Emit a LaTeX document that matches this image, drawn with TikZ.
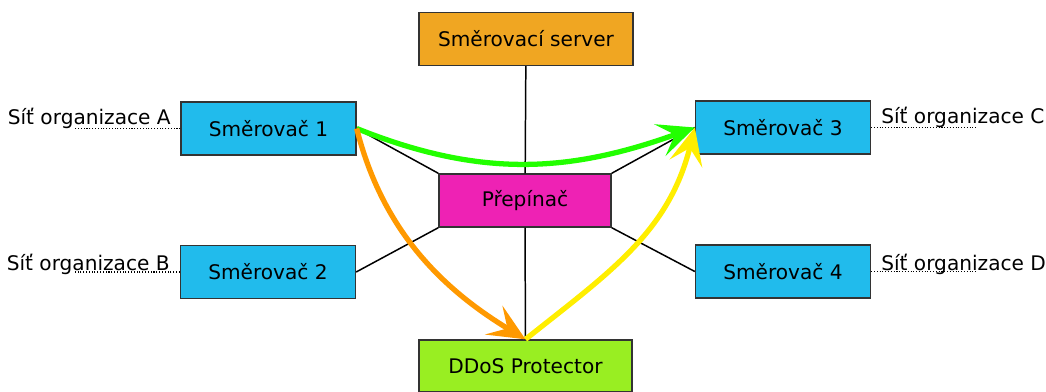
\documentclass[tikz,border=0pt]{standalone}
\usepackage{fontspec}
\setmainfont{DejaVu Sans}
\usetikzlibrary{arrows.meta}

\begin{document}
\begin{tikzpicture}[
  x=0.02cm, y=-0.02cm,
  font=\fontsize{11.45}{13.7}\selectfont,
  box/.style={draw=black!80, line width=0.8pt, inner sep=0pt, minimum height=1.06cm},
  rtr/.style={box, fill=rtrblue, minimum width=3.5cm},
  lbl/.style={inner sep=0pt},
  link/.style={line width=0.85pt},
  net/.style={densely dotted, line width=0.6pt},
  flow/.style={line width=3pt, -{Stealth[length=21pt,width=19pt,inset=9pt]}},
]
\definecolor{rtrblue}{RGB}{33,187,236}
\definecolor{srvorange}{RGB}{240,166,34}
\definecolor{swmagenta}{RGB}{238,34,180}
\definecolor{ddoslime}{RGB}{153,238,34}
\definecolor{fgreen}{RGB}{34,255,0}
\definecolor{forange}{RGB}{255,153,0}
\definecolor{fyellow}{RGB}{255,238,0}

\useasboundingbox (0,0) rectangle (1046,392);

\node [box, fill=srvorange, minimum width=4.28cm] (srv) at (526,39) {Směrovací server};
\node [box, fill=swmagenta, minimum width=3.44cm] (sw) at (525,200.5) {Přepínač};
\node [box, fill=ddoslime, minimum width=4.26cm, minimum height=1.04cm] (ddos) at (525.5,366) {DDoS Protector};

\node [rtr] (r1) at (268.5,128.5) {Směrovač 1};
\node [rtr] (r2) at (268,272) {Směrovač 2};
\node [rtr] (r3) at (783,127.5) {Směrovač 3};
\node [rtr] (r4) at (783,271.5) {Směrovač 4};

% site labels
\node [lbl, anchor=base east] (nA) at (171,124.5) {Síť organizace A};
\node [lbl, anchor=base east] (nB) at (170,270.5) {Síť organizace B};
\node [lbl, anchor=base west] (nC) at (881,123.5) {Síť organizace C};
\node [lbl, anchor=base west] (nD) at (881,270) {Síť organizace D};
\coordinate (dA) at (75,128.5);
\coordinate (dB) at (73,272);
\coordinate (dC) at (977,127.5);
\coordinate (dD) at (977,271.5);

\draw [net] (r1.west) -- (dA);
\draw [net] (r2.west) -- (dB);
\draw [net] (r3.east) -- (dC);
\draw [net] (r4.east) -- (dD);

% links to the switch
\draw [link] (srv) -- (sw);
\draw [link] (sw) -- (ddos);
\draw [link] (r1.east) -- (sw.north west);
\draw [link] (r2.east) -- (sw.south west);
\draw [link] (r3.west) -- (sw.north east);
\draw [link] (r4.west) -- (sw.south east);

% traffic
\draw [flow, fgreen] (r1.east) .. controls +(125,50) and +(-125,45) .. (r3.west);
\draw [flow, forange] (r1.east) .. controls +(24,95) and +(-91,-55) .. (ddos.north);
\draw [flow, fyellow] (ddos.north) .. controls +(84,-67) and +(-26,105) .. (r3.west);

\end{tikzpicture}
\end{document}
